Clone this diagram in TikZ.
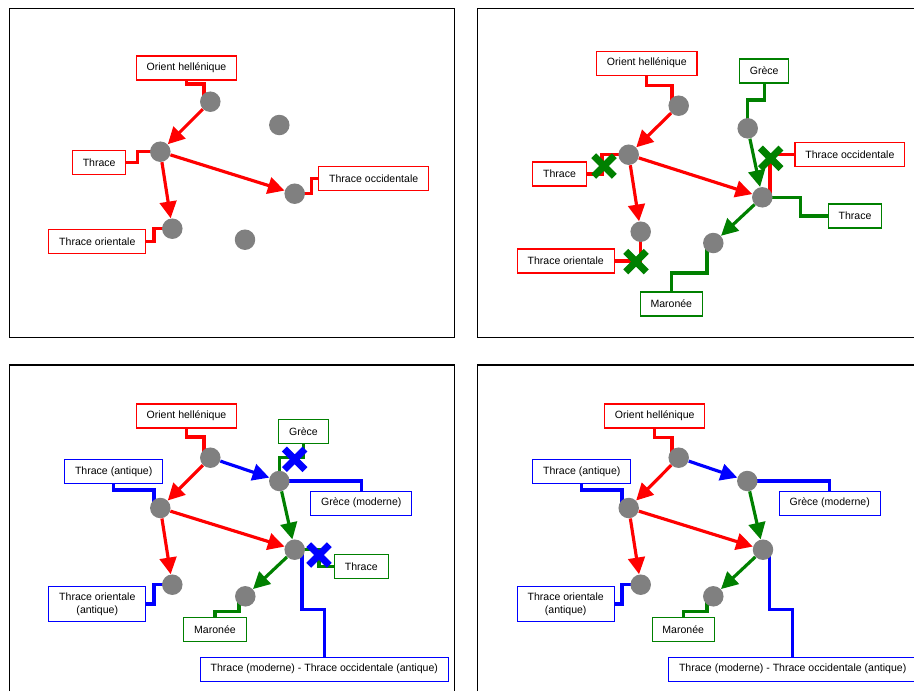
\documentclass[tikz,border=0pt]{standalone}
\usepackage{fontspec}
\setmainfont{Liberation Sans}
\usetikzlibrary{arrows.meta,shapes.misc,calc,backgrounds}
\definecolor{edgered}{HTML}{FF0000}
\definecolor{edgegreen}{HTML}{008000}
\definecolor{edgeblue}{HTML}{0000FF}
\definecolor{dotgray}{HTML}{808080}

\begin{document}
\begin{tikzpicture}[x=0.02cm,y=-0.02cm,
  dot/.style={circle,fill=dotgray,minimum size=0.41cm,inner sep=0pt},
  lbl/.style={draw=#1,fill=white,line width=0.6pt,font=\fontsize{6}{7.4}\selectfont,inner xsep=5.9pt,inner ysep=3.4pt,minimum height=0.48cm,align=center},
  lk/.style={#1,line width=1.8pt},
  ar/.style={#1,line width=1.8pt,-{Triangle[length=9.5pt,width=9.5pt]}},
  xm/.style={cross out,draw=#1,line width=4pt,minimum size=0.27cm,inner sep=0pt},
  frame/.style={black,line width=0.6pt}]
\clip (0,0) rectangle (914,691);
\draw[frame] (9.3,8.3) rectangle (454.3,337.7);
\draw[frame] (914,8.3) -| (477.7,337.7) -- (914,337.7);
\draw[frame] (9.3,691) |- (454.3,365) -- (454.3,691);
\draw[frame] (477.7,691) |- (914,365);
% ---------- panel 1 ----------
\node[dot] (o1) at (210.3,101.7) {};
\node[dot] (t1) at (160.3,151.7) {};
\node[dot] (w1) at (294.7,193.7) {};
\node[dot] (e1) at (172.3,228.7) {};
\node[dot] (g1) at (279.3,125) {};
\node[dot] (m1) at (245,239.7) {};
\node[lbl=edgered] (oh1) at (186.5,68) {Orient hellénique};
\node[lbl=edgered] (th1) at (99.2,162.5) {Thrace};
\node[lbl=edgered] (tw1) at (373.7,178.3) {Thrace occidentale};
\node[lbl=edgered] (te1) at (97.3,241.8) {Thrace orientale};
\begin{scope}[on background layer]
\draw[lk=edgered] (oh1.south) |- (204,84) |- (o1.center);
\draw[lk=edgered] (th1.east) -| (137.7,151.7) -- (t1.center);
\draw[lk=edgered] (w1.center) -| (311.7,178.3) -- (tw1.west);
\draw[lk=edgered] (te1.east) -| (154,228.7) -- (e1.center);
\end{scope}
\draw[ar=edgered] (o1) -- (t1);
\draw[ar=edgered] (t1) -- (e1);
\draw[ar=edgered] (t1) -- (w1);
% ---------- panel 2 ----------
\node[dot] (o2) at (678.7,105.7) {};
\node[dot] (t2) at (628.7,154.7) {};
\node[dot] (e2) at (640.7,231.7) {};
\node[dot] (g2) at (747.7,128.3) {};
\node[dot] (c2) at (762.3,197.3) {};
\node[dot] (m2) at (713.3,243) {};
\node[lbl=edgered] (oh2) at (646.8,63.2) {Orient hellénique};
\node[lbl=edgered] (th2) at (559.5,174) {Thrace};
\node[lbl=edgered] (te2) at (565.7,261) {Thrace orientale};
\node[lbl=edgegreen] (gr2) at (764.2,71) {Grèce};
\node[lbl=edgered] (tw2) at (849.9,154.5) {Thrace occidentale};
\node[lbl=edgegreen] (tg2) at (855,216) {Thrace};
\node[lbl=edgegreen] (ma2) at (671.3,304) {Maronée};
\begin{scope}[on background layer]
\draw[lk=edgered] (oh2.south) |- (672,85.3) |- (o2.center);
\draw[lk=edgered] (th2.east) -| (602,154.7) -- (t2.center);
\draw[lk=edgered] (te2.east) -| (e2.center);
\draw[lk=edgegreen] (gr2.south) |- (747.7,100) -- (g2.center);
\draw[lk=edgered] (tw2.west) -| ($(c2)+(7.7,0)$);
\draw[lk=edgegreen] (c2.center) -| (800.7,216) -- (tg2.west);
\draw[lk=edgegreen] (ma2.north) |- (707,273) |- (m2.center);
\end{scope}
\draw[ar=edgered] (o2) -- (t2);
\draw[ar=edgered] (t2) -- (e2);
\draw[ar=edgered] (t2) -- (c2);
\draw[ar=edgegreen] (g2) -- (c2);
\draw[ar=edgegreen] (c2) -- (m2);
\node[xm=edgegreen] (x2a) at (604,166) {};
\node[xm=edgegreen] (x2b) at (636,261.7) {};
\node[xm=edgegreen] (x2c) at (770.7,158.3) {};
% ---------- panel 3 ----------
\node[dot] (o3) at (210.3,457.7) {};
\node[dot] (t3) at (160.3,508) {};
\node[dot] (e3) at (172.3,584.7) {};
\node[dot] (g3) at (279.3,481) {};
\node[dot] (c3) at (294.7,549.7) {};
\node[dot] (m3) at (245.3,596.3) {};
\node[lbl=edgered] (oh3) at (186.5,416) {Orient hellénique};
\node[lbl=edgeblue] (ta3) at (113.7,471.3) {Thrace (antique)};
\node[lbl=edgeblue] (te3) at (97.3,604) {Thrace orientale\\(antique)};
\node[lbl=edgegreen] (gr3) at (303.5,431.7) {Grèce};
\node[lbl=edgeblue] (gm3) at (361.3,503.2) {Grèce (moderne)};
\node[lbl=edgegreen] (tg3) at (361.3,566.3) {Thrace};
\node[lbl=edgegreen] (ma3) at (215,629.7) {Maronée};
\node[lbl=edgeblue] (tm3) at (324.3,669.2) {Thrace (moderne) - Thrace occidentale (antique)};
\begin{scope}[on background layer]
\draw[lk=edgered] (oh3.south) |- (204,437) |- (o3.center);
\draw[lk=edgeblue] (ta3.south) |- (154,490) |- (t3.center);
\draw[lk=edgeblue] (te3.east) -| (154,584.7) -- (e3.center);
\draw[lk=edgegreen] (gr3.south) |- (279.3,457.3) -- (g3.center);
\draw[lk=edgeblue] (g3.center) -| (gm3.north);
\draw[lk=edgegreen] (c3.center) -| (319,566.3) -- (tg3.west);
\draw[lk=edgegreen] (ma3.north) |- (239,611.7) |- (m3.center);
\draw[lk=edgeblue] ($(c3)+(7.3,0)$) |- (324.3,609.3) -- (tm3.north);
\end{scope}
\draw[ar=edgered] (o3) -- (t3);
\draw[ar=edgered] (t3) -- (e3);
\draw[ar=edgered] (t3) -- (c3);
\draw[ar=edgeblue] (o3) -- (g3);
\draw[ar=edgegreen] (g3) -- (c3);
\draw[ar=edgegreen] (c3) -- (m3);
\node[xm=edgeblue] (x3a) at (294.7,459.3) {};
\node[xm=edgeblue] (x3b) at (319,555) {};
% ---------- panel 4 ----------
\node[dot] (o4) at (678.7,457.7) {};
\node[dot] (t4) at (628.7,508) {};
\node[dot] (e4) at (640.7,584.7) {};
\node[dot] (g4) at (747.3,481) {};
\node[dot] (c4) at (763,549.7) {};
\node[dot] (m4) at (713.3,596.3) {};
\node[lbl=edgered] (oh4) at (654.7,416) {Orient hellénique};
\node[lbl=edgeblue] (ta4) at (581.8,471.3) {Thrace (antique)};
\node[lbl=edgeblue] (te4) at (565.7,604) {Thrace orientale\\(antique)};
\node[lbl=edgeblue] (gm4) at (829.7,503.2) {Grèce (moderne)};
\node[lbl=edgegreen] (ma4) at (683.2,629.7) {Maronée};
\node[lbl=edgeblue] (tm4) at (792.7,669.2) {Thrace (moderne) - Thrace occidentale (antique)};
\begin{scope}[on background layer]
\draw[lk=edgered] (oh4.south) |- (672,437.7) |- (o4.center);
\draw[lk=edgeblue] (ta4.south) |- (622,490) |- (t4.center);
\draw[lk=edgeblue] (te4.east) -| (622,584.7) -- (e4.center);
\draw[lk=edgeblue] (g4.center) -| (gm4.north);
\draw[lk=edgegreen] (ma4.north) |- (707,611.7) |- (m4.center);
\draw[lk=edgeblue] ($(c4)+(6.7,0)$) |- (792.7,609.3) -- (tm4.north);
\end{scope}
\draw[ar=edgered] (o4) -- (t4);
\draw[ar=edgered] (t4) -- (e4);
\draw[ar=edgered] (t4) -- (c4);
\draw[ar=edgeblue] (o4) -- (g4);
\draw[ar=edgegreen] (g4) -- (c4);
\draw[ar=edgegreen] (c4) -- (m4);
\end{tikzpicture}
\end{document}
